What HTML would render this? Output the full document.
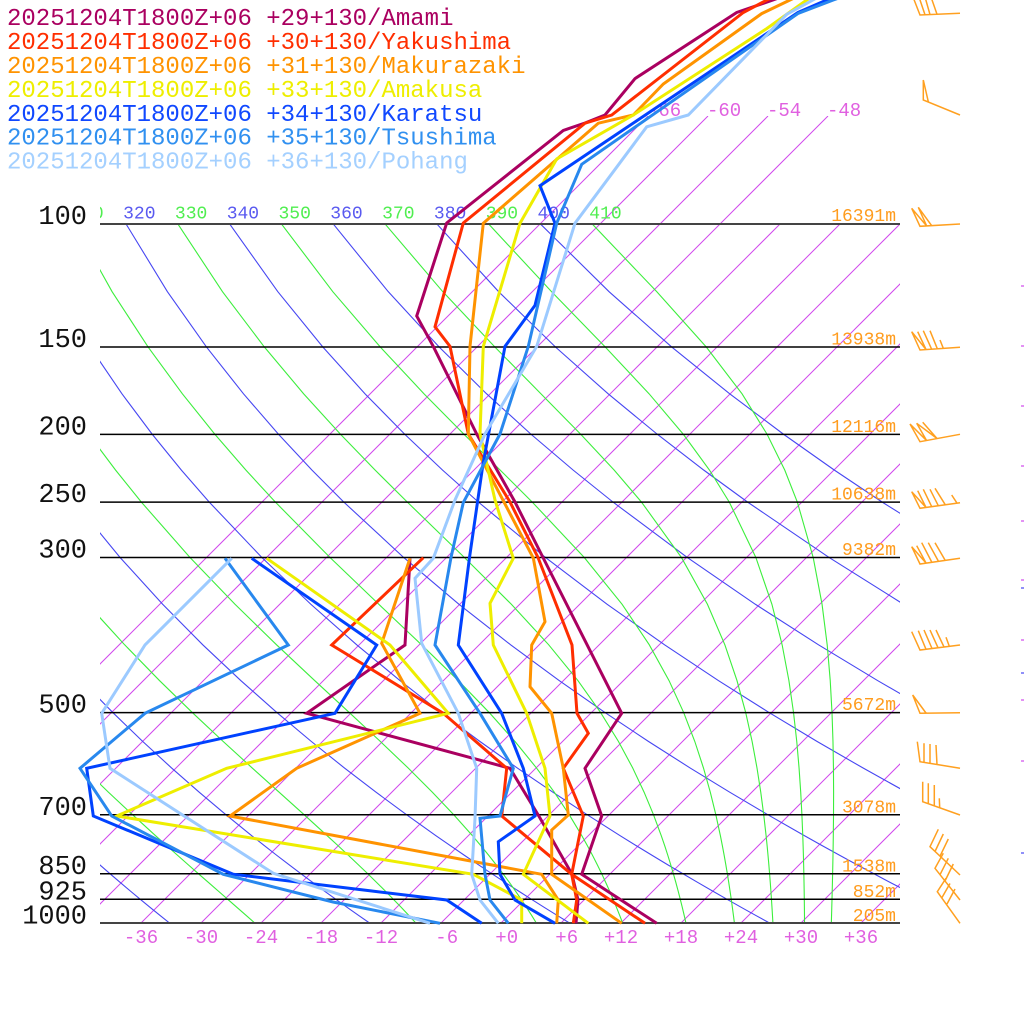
<!DOCTYPE html>
<html>
<head>
<meta charset="utf-8">
<style>
html,body{margin:0;padding:0;background:#fff;}
svg{display:block;}
text{font-family:"Liberation Mono","DejaVu Sans Mono",monospace;}
</style>
</head>
<body>
<svg id="s" width="1024" height="1024" viewBox="0 0 1024 1024" xmlns="http://www.w3.org/2000/svg">
<defs>
<clipPath id="ci"><rect x="100" y="116" width="800" height="807"/></clipPath>
<clipPath id="ca"><rect x="100" y="224" width="800" height="699"/></clipPath>
<clipPath id="cl"><rect x="100" y="190" width="900" height="40"/></clipPath>
</defs>
<rect width="1024" height="1024" fill="#fff"/>

<!-- isotherms -->
<g clip-path="url(#ci)" stroke="#d048ec" stroke-width="1" fill="none">
<line x1="-159" y1="923" x2="648" y2="116"/>
<line x1="-99" y1="923" x2="708" y2="116"/>
<line x1="-39" y1="923" x2="768" y2="116"/>
<line x1="21" y1="923" x2="828" y2="116"/>
<line x1="81" y1="923" x2="780" y2="224"/>
<line x1="141" y1="923" x2="840" y2="224"/>
<line x1="201" y1="923" x2="900" y2="224"/>
<line x1="261" y1="923" x2="960" y2="224"/>
<line x1="321" y1="923" x2="1020" y2="224"/>
<line x1="381" y1="923" x2="1080" y2="224"/>
<line x1="441" y1="923" x2="1140" y2="224"/>
<line x1="501" y1="923" x2="1200" y2="224"/>
<line x1="561" y1="923" x2="1260" y2="224"/>
<line x1="621" y1="923" x2="1320" y2="224"/>
<line x1="681" y1="923" x2="1380" y2="224"/>
<line x1="741" y1="923" x2="1440" y2="224"/>
<line x1="801" y1="923" x2="1500" y2="224"/>
<line x1="861" y1="923" x2="1560" y2="224"/>
</g>

<!-- adiabats (filled by script) -->
<g id="adi" clip-path="url(#ca)"></g>

<!-- theta labels -->
<g clip-path="url(#cl)" font-size="18">
<text x="71.3" y="218.5" fill="#50ee50">310</text>
<text x="123.1" y="218.5" fill="#5a5af0">320</text>
<text x="174.9" y="218.5" fill="#50ee50">330</text>
<text x="226.7" y="218.5" fill="#5a5af0">340</text>
<text x="278.5" y="218.5" fill="#50ee50">350</text>
<text x="330.3" y="218.5" fill="#5a5af0">360</text>
<text x="382.1" y="218.5" fill="#50ee50">370</text>
<text x="433.9" y="218.5" fill="#5a5af0">380</text>
<text x="485.7" y="218.5" fill="#50ee50">390</text>
<text x="537.5" y="218.5" fill="#5a5af0">400</text>
<text x="589.3" y="218.5" fill="#50ee50">410</text>
</g>

<!-- isotherm top labels -->
<g font-size="19" fill="#e060e0">
<text x="647" y="116">-66</text>
<text x="707" y="116">-60</text>
<text x="767" y="116">-54</text>
<text x="827" y="116">-48</text>
</g>

<!-- pressure lines -->
<g stroke-width="1.5" stroke="#000">
<line x1="100" y1="224" x2="900" y2="224" stroke="#444" stroke-width="2"/>
<line x1="100" y1="347" x2="900" y2="347"/>
<line x1="100" y1="434.4" x2="900" y2="434.4"/>
<line x1="100" y1="502.1" x2="900" y2="502.1"/>
<line x1="100" y1="557.5" x2="900" y2="557.5"/>
<line x1="100" y1="712.6" x2="900" y2="712.6"/>
<line x1="100" y1="814.7" x2="900" y2="814.7"/>
<line x1="100" y1="873.7" x2="900" y2="873.7"/>
<line x1="100" y1="899.3" x2="900" y2="899.3"/>
<line x1="100" y1="923" x2="900" y2="923" stroke="#444" stroke-width="2"/>
</g>

<!-- pressure labels -->
<g font-size="27" fill="#111" text-anchor="end">
<text x="87" y="224">100</text>
<text x="87" y="347">150</text>
<text x="87" y="434.5">200</text>
<text x="87" y="502">250</text>
<text x="87" y="557.5">300</text>
<text x="87" y="712.5">500</text>
<text x="87" y="815">700</text>
<text x="87" y="874">850</text>
<text x="87" y="899.5">925</text>
<text x="87" y="923.5">1000</text>
</g>

<!-- height labels -->
<g font-size="18" fill="#ff9c1e" text-anchor="end">
<text x="896" y="221">16391m</text>
<text x="896" y="344.5">13938m</text>
<text x="896" y="432">12116m</text>
<text x="896" y="499.5">10638m</text>
<text x="896" y="555">9382m</text>
<text x="896" y="710">5672m</text>
<text x="896" y="812.5">3078m</text>
<text x="896" y="871.5">1538m</text>
<text x="896" y="897">852m</text>
<text x="896" y="921">205m</text>
</g>

<!-- x tick labels -->
<g font-size="19" fill="#e060e0">
<text x="123.9" y="943">-36</text>
<text x="183.9" y="943">-30</text>
<text x="243.9" y="943">-24</text>
<text x="303.9" y="943">-18</text>
<text x="363.9" y="943">-12</text>
<text x="435.3" y="943">-6</text>
<text x="495.3" y="943">+0</text>
<text x="555.3" y="943">+6</text>
<text x="603.9" y="943">+12</text>
<text x="663.9" y="943">+18</text>
<text x="723.9" y="943">+24</text>
<text x="783.9" y="943">+30</text>
<text x="843.9" y="943">+36</text>
</g>

<!-- data series -->
<g fill="none" stroke-width="3">
<g stroke="#aa0060">
<polyline points="656.7,923.3 581.7,874.3 601.7,816 585,768.3 621.7,713.3 543,557.5 515,502 476.7,434 433.3,346.4 416.7,316 446.7,223 563.3,130.4 585,123 605,115 635,78.6 736.7,12.5 773,0 800,-10"/>
<polyline points="410,558.3 405,645 306.7,713.3 510,768.3 540,818 572,874.3 578,900 576,923.3"/>
</g>
<g stroke="#ff2e00">
<polyline points="645,923.3 571.7,874.3 583.3,816 563.3,768.3 588.3,733.3 577,713.3 572,645 538,557.5 510,502 468.3,434 450,346.4 435,326.8 463.3,223 585,123.2 611.7,115 743.3,12.5 767,0 795,-12"/>
<polyline points="423.3,557.7 331.7,645 443.3,713.3 506.7,768.3 501.7,816 571.7,874.3 576.7,900 573.3,923.3"/>
</g>
<g stroke="#ff9300">
<polyline points="621.7,923.3 551.7,874.3 551.7,830 568.3,815 563.3,768.3 551.7,713.3 530,686.7 531.7,645 545,621.7 533.3,558 468.3,434 470,346.4 483.3,223.2 598.3,123.2 633.3,115 663.3,84 761.7,13.6 790,0 815,-12"/>
<polyline points="410,558.3 381.7,643.3 420,713.3 296.7,768.3 230,816 541.7,874.3 558.3,900 556.7,923.3"/>
</g>
<g stroke="#eeee00">
<polyline points="588.3,923.3 523.3,874.3 550,816 545,768.3 526.7,713.3 493.3,645 490,603.3 513.3,558.3 495,500 480,434 483.3,346.4 520,223.2 556.7,159 633.3,115 766.7,28.6 806.7,0 830,-15"/>
<polyline points="266.7,558.3 390,645 448.3,713.3 226.7,768.3 116.7,816 473.3,874.3 521.7,900 521.7,923.3"/>
</g>
<g stroke="#0042ff">
<polyline points="555,923.3 515,900 500,874.3 498.3,841.7 535,816 523.3,768.3 501.7,713.3 458.3,645 469.5,557.5 483,464 505,346.4 535,305.4 555,223.2 540,185.7 798,12.5 826.7,0 845,-10"/>
<polyline points="251.7,558.3 376.7,645 335,713.3 86.7,768.3 93.3,816 233.3,874.3 446.7,900 481.7,923.3"/>
</g>
<g stroke="#2888ee">
<polyline points="508.3,923.3 490,900 485,874.3 480,818.3 500,816 513.3,768.3 480,713.3 435,645 451,557.5 463.3,502.5 500,434 528.3,346.4 556.7,223.2 581.7,164.3 798.3,13.3 833.3,0 850,-6"/>
<polyline points="225,558.3 288.3,645 145,713.3 80,768.3 111.7,816 223.3,874.3 333,902 440,923.3"/>
</g>
<g stroke="#9ccaff">
<polyline points="498.3,923.3 480,900 471.7,874.3 475,818.3 476.7,768.3 458.3,713.3 421.7,643.3 415,578.3 433.3,558.3 455,500 485,434 536.7,346.4 575,223.2 646.7,126.8 688.3,115 786.7,14.3 813,0 830,-10"/>
<polyline points="231.7,558.3 145,645 101.7,713.3 110,768.3 273.3,873.3 430,923.3"/>
</g>
</g>

<!-- wind barbs -->
<g fill="none" stroke="#ffa020" stroke-width="1.5" stroke-linejoin="miter">
<path d="M960,13.3 L920,15 L913,-3 M925,14.8 L919,-3 M930,14.6 L925,-3 M937,14.3 L931,-3"/>
<path d="M960,115 L923.3,100 L923.3,80 L928.3,101.7"/>
<path d="M960,224 L920,226.3 L911.7,208.3 L926.7,226 L918.3,207.3 L931.7,225.7"/>
<path d="M960,347.3 L920,350 L911.7,331.7 L926,349.5 L917.7,331.7 M931.7,349.3 L923.3,330.7 M937.3,348.7 L930,330.7 M943.3,348.3 L940,340"/>
<path d="M960,434.3 L920,441.7 L910,424 L926.7,440.7 L916.7,423.3 L937,438.5 L922.7,422.3"/>
<path d="M960,502.7 L920,508.3 L911.7,491.7 L926,507.5 L917.7,490.7 M931.7,506.7 L923.3,489.3 M938.3,505.7 L930,489.3 M945,504.3 L935,488.3 M956.7,502.7 L951.7,495"/>
<path d="M960,558.3 L920,564 L911.7,546.7 L926,563 L916.7,545.7 M931.7,562 L921.7,542.7 M938.3,561 L928.3,542.7 M945,560 L935,542.7"/>
<path d="M960,645 L920,650 L911.7,631.7 M926,649.3 L918.3,630.7 M932,648.5 L924,630 M938,647.7 L930,630 M944,647 L936,630 M949.3,646.3 L946,637.3"/>
<path d="M960,712.7 L920,713.3 L912.7,695 L926,713"/>
<path d="M960,768.3 L920,761.7 L917.3,741.7 M924,762.8 L924,743.3 M930,763.8 L930,744 M937,764.8 L936,745"/>
<path d="M960,815 L922.7,801.7 L922.7,781.7 M928.3,803.7 L928.3,783.3 M934.3,805.8 L934.3,785 M939.7,807.7 L939.3,798.3"/>
<path d="M960,875 L930,846.7 L938.3,829.3 M935,851.5 L943.3,834 M940,856.2 L948.3,839"/>
<path d="M960,900 L935,868.3 L943.3,853.3 M940,874.7 L948.3,858.3 M945,881 L953.3,864"/>
<path d="M960,923.3 L937.3,891.7 L946,878.3 M942,897.5 L950,883.5 M947,904 L955,889"/>
</g>

<!-- right-edge tick fragments -->
<g stroke-width="1.2" fill="none">
<g stroke="#d048ec">
<line x1="1021" y1="286" x2="1024" y2="286"/>
<line x1="1021" y1="346" x2="1024" y2="346"/>
<line x1="1021" y1="406" x2="1024" y2="406"/>
<line x1="1021" y1="466" x2="1024" y2="466"/>
<line x1="1021" y1="521" x2="1024" y2="521"/>
<line x1="1021" y1="580" x2="1024" y2="580"/>
<line x1="1021" y1="640" x2="1024" y2="640"/>
<line x1="1021" y1="700" x2="1024" y2="700"/>
<line x1="1021" y1="761" x2="1024" y2="761"/>
</g>
<g stroke="#4646f2">
<line x1="1021" y1="588" x2="1024" y2="588"/>
<line x1="1021" y1="673" x2="1024" y2="673"/>
<line x1="1021" y1="853" x2="1024" y2="853"/>
</g>
</g>

<!-- legend -->
<g font-size="24">
<text x="7" y="25" fill="#aa0060">20251204T1800Z+06 +29+130/Amami</text>
<text x="7" y="49" fill="#ff2e00">20251204T1800Z+06 +30+130/Yakushima</text>
<text x="7" y="72.8" fill="#ff9300">20251204T1800Z+06 +31+130/Makurazaki</text>
<text x="7" y="96.8" fill="#eeee00">20251204T1800Z+06 +33+130/Amakusa</text>
<text x="7" y="120.8" fill="#1048ff">20251204T1800Z+06 +34+130/Karatsu</text>
<text x="7" y="144.6" fill="#3090f0">20251204T1800Z+06 +35+130/Tsushima</text>
<text x="7" y="168.5" fill="#a4d0ff">20251204T1800Z+06 +36+130/Pohang</text>
</g>
</svg>
<script>
(function(){
var NS="http://www.w3.org/2000/svg";
var g=document.getElementById("adi");
var K=0.2857;
function X(T,p){return 501+10*(T-273.15)+303.6*Math.log(1000/p);}
function Y(p){return 923-303.6*Math.log(1000/p);}
var L=[100,125,150,175,200,225,250,300,350,400,450,500,550,600,650,700,750,775,800,825,850,875,900,925,950,975,1000];
function add(pts,col){
  var e=document.createElementNS(NS,"polyline");
  var s=[];
  for(var i=0;i<pts.length;i++)s.push(pts[i][0].toFixed(2)+","+pts[i][1].toFixed(2));
  e.setAttribute("points",s.join(" "));
  e.setAttribute("fill","none");
  e.setAttribute("stroke",col);
  e.setAttribute("stroke-width","1.1");
  g.appendChild(e);
}
var th,i,p;
for(th=200;th<=400;th+=20){
  var pts=[];
  for(i=0;i<L.length;i++){p=L[i];pts.push([X(th*Math.pow(p/1000,K),p),Y(p)]);}
  add(pts,"#4646f2");
}
function es(T){var t=T-273.15;return 6.112*Math.exp(17.67*t/(t+243.5));}
function f(T,p){
  var e=es(T);var r=0.622*e/(p-e);
  return (287.04*T+2.501e6*r)/(p*(1005.7+2.501e6*2.501e6*r*0.622/(287.04*T*T)));
}
for(th=190;th<=410;th+=20){
  var T=th*Math.pow(0.1,K);
  var q=[[X(T,100),Y(100)]];
  var li=1;
  for(p=100;p<1000;p+=1){
    var k1=f(T,p),k2=f(T+0.5*k1,p+0.5),k3=f(T+0.5*k2,p+0.5),k4=f(T+k3,p+1);
    T+=(k1+2*k2+2*k3+k4)/6;
    if(p+1===L[li]){q.push([X(T,p+1),Y(p+1)]);li++;}
  }
  add(q,"#3cee3c");
}
})();
</script>
</body>
</html>
